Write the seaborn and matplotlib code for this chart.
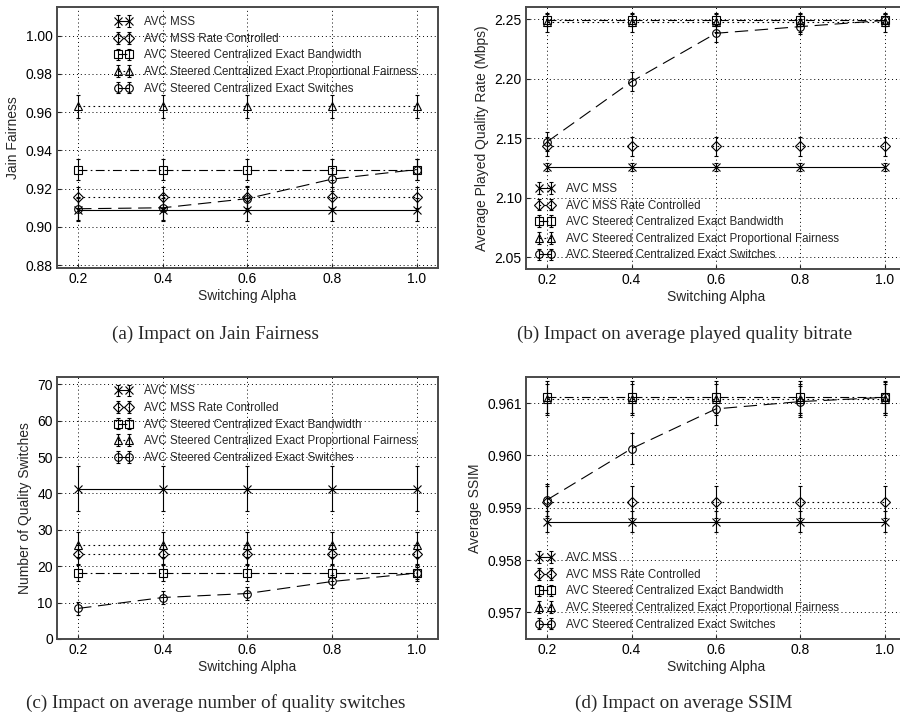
import numpy as np
import pandas as pd
import matplotlib
matplotlib.use("Agg")
import matplotlib.pyplot as plt
import seaborn as sns
from matplotlib.ticker import FormatStrFormatter

# ---------------- data ----------------
alpha = [0.2, 0.4, 0.6, 0.8, 1.0]
series_names = [
    "AVC MSS",
    "AVC MSS Rate Controlled",
    "AVC Steered Centralized Exact Bandwidth",
    "AVC Steered Centralized Exact Proportional Fairness",
    "AVC Steered Centralized Exact Switches",
]

# (a) Jain fairness
jain_mss = [0.909, 0.909, 0.909, 0.909, 0.909]
jain_rate = [0.9155, 0.9155, 0.9155, 0.9155, 0.9155]
jain_bw = [0.930, 0.930, 0.930, 0.930, 0.930]
jain_pf = [0.963, 0.963, 0.963, 0.963, 0.963]
jain_sw = [0.9095, 0.910, 0.9148, 0.925, 0.930]
jain_err_mss = [0.006, 0.006, 0.006, 0.006, 0.006]
jain_err_rate = [0.0056, 0.0056, 0.0056, 0.0056, 0.0056]
jain_err_bw = [0.0055, 0.0055, 0.0055, 0.0055, 0.0055]
jain_err_pf = [0.0058, 0.0058, 0.0058, 0.0058, 0.0058]
jain_err_sw = [0.006, 0.0065, 0.0065, 0.006, 0.0055]

# (b) average played quality rate (Mbps)
rate_mss = [2.126, 2.126, 2.126, 2.126, 2.126]
rate_rate = [2.1435, 2.1435, 2.1435, 2.1435, 2.1435]
rate_bw = [2.2495, 2.2495, 2.2495, 2.2495, 2.2495]
rate_pf = [2.2475, 2.2475, 2.2475, 2.2475, 2.2475]
rate_sw = [2.147, 2.1976, 2.2382, 2.2438, 2.249]
rate_err_mss = [0.0035, 0.0035, 0.0035, 0.0035, 0.0035]
rate_err_rate = [0.008, 0.008, 0.008, 0.008, 0.008]
rate_err_bw = [0.005, 0.005, 0.005, 0.005, 0.005]
rate_err_pf = [0.008, 0.008, 0.008, 0.008, 0.008]
rate_err_sw = [0.008, 0.008, 0.007, 0.006, 0.005]

# (c) number of quality switches
sw_mss = [41.3, 41.3, 41.3, 41.3, 41.3]
sw_rate = [23.3, 23.3, 23.3, 23.3, 23.3]
sw_bw = [18.1, 18.1, 18.1, 18.1, 18.1]
sw_pf = [25.9, 25.9, 25.9, 25.9, 25.9]
sw_sw = [8.4, 11.4, 12.5, 15.8, 18.1]
sw_err_mss = [6.2, 6.2, 6.2, 6.2, 6.2]
sw_err_rate = [2.6, 2.6, 2.6, 2.6, 2.6]
sw_err_bw = [2.2, 2.2, 2.2, 2.2, 2.2]
sw_err_pf = [3.4, 3.4, 3.4, 3.4, 3.4]
sw_err_sw = [1.7, 1.7, 1.7, 1.7, 1.7]

# (d) average SSIM
ssim_mss = [0.95873, 0.95873, 0.95873, 0.95873, 0.95873]
ssim_rate = [0.95911, 0.95911, 0.95911, 0.95911, 0.95911]
ssim_bw = [0.96112, 0.96112, 0.96112, 0.96112, 0.96112]
ssim_pf = [0.96107, 0.96107, 0.96107, 0.96107, 0.96107]
ssim_sw = [0.95915, 0.96013, 0.96089, 0.96103, 0.96111]
ssim_err_mss = [0.0002, 0.0002, 0.0002, 0.0002, 0.0002]
ssim_err_rate = [0.0003, 0.0003, 0.0003, 0.0003, 0.0003]
ssim_err_bw = [0.0003, 0.0003, 0.0003, 0.0003, 0.0003]
ssim_err_pf = [0.0003, 0.0003, 0.0003, 0.0003, 0.0003]
ssim_err_sw = [0.0003, 0.0003, 0.0003, 0.0003, 0.0003]

x_ticks = [0.2, 0.4, 0.6, 0.8, 1.0]
jain_ticks = [0.88, 0.90, 0.92, 0.94, 0.96, 0.98, 1.00]
rate_ticks = [2.05, 2.10, 2.15, 2.20, 2.25]
sw_ticks = [0, 10, 20, 30, 40, 50, 60, 70]
ssim_ticks = [0.957, 0.958, 0.959, 0.960, 0.961]

captions = [
    "(a) Impact on Jain Fairness",
    "(b) Impact on average played quality bitrate",
    "(c) Impact on average number of quality switches",
    "(d) Impact on average SSIM",
]
ylabels = [
    "Jain Fairness",
    "Average Played Quality Rate (Mbps)",
    "Number of Quality Switches",
    "Average SSIM",
]

# ---------------- style ----------------
sns.set_theme(style="ticks")
plt.rcParams["font.family"] = ["Liberation Sans", "DejaVu Sans"]

markers = ["x", "D", "s", "^", "o"]
msizes = [6, 5, 5.5, 5.5, 5.5]
linestyles = ["-", (0, (1.5, 3)), (0, (8, 3, 1.5, 3)), (0, (1.5, 3)), (0, (12, 6))]


def panel(ax, means, errs, yticks, ylim, fmt, ylabel, legend_loc, anchor):
    for name, m, e, mk, ms, ls in zip(series_names, means, errs, markers, msizes, linestyles):
        df = pd.DataFrame({"alpha": alpha, "value": m})
        ax.errorbar(df["alpha"], df["value"], yerr=e, color="black", lw=0.8,
                    linestyle=ls, marker=mk, ms=ms, mfc="none", mec="black",
                    mew=0.8, ecolor="black", elinewidth=0.8, capsize=1.6,
                    capthick=0.8, label=name)
    ax.set_xlim(0.15, 1.05)
    ax.set_ylim(*ylim)
    ax.set_xticks(x_ticks)
    ax.set_yticks(yticks)
    ax.xaxis.set_major_formatter(FormatStrFormatter("%.1f"))
    ax.yaxis.set_major_formatter(FormatStrFormatter(fmt))
    ax.grid(True, color="black", linestyle=(0, (1, 3)), lw=0.7)
    ax.set_xlabel("Switching Alpha", fontsize=10, labelpad=2)
    ax.set_ylabel(ylabel, fontsize=10, labelpad=4)
    ax.tick_params(direction="in", length=3, width=0.8, labelsize=10, pad=3,
                   colors="#222222", labelcolor="black")
    for sp in ax.spines.values():
        sp.set_linewidth(1.4)
        sp.set_color("#4a4a4a")
        sp.set_visible(True)
    ax.legend(loc=legend_loc, bbox_to_anchor=anchor, frameon=False,
              borderpad=0, borderaxespad=0, numpoints=2, handlelength=1.6,
              handletextpad=1.0, labelspacing=0.4, fontsize=8.3)


fig = plt.figure(figsize=(9, 7.17), dpi=100)
fig.patch.set_facecolor("white")

axa = fig.add_axes([0.0633, 0.6262, 0.4233, 0.3640])
axb = fig.add_axes([0.5844, 0.6244, 0.4222, 0.3654])
axc = fig.add_axes([0.0633, 0.1088, 0.4233, 0.3654])
axd = fig.add_axes([0.5844, 0.1088, 0.4222, 0.3654])

panel(axa, [jain_mss, jain_rate, jain_bw, jain_pf, jain_sw],
      [jain_err_mss, jain_err_rate, jain_err_bw, jain_err_pf, jain_err_sw],
      jain_ticks, (0.8785, 1.015), "%.2f", ylabels[0], "upper left", (0.15, 0.965))
panel(axb, [rate_mss, rate_rate, rate_bw, rate_pf, rate_sw],
      [rate_err_mss, rate_err_rate, rate_err_bw, rate_err_pf, rate_err_sw],
      rate_ticks, (2.04, 2.26), "%.2f", ylabels[1], "lower left", (0.026, 0.03))
panel(axc, [sw_mss, sw_rate, sw_bw, sw_pf, sw_sw],
      [sw_err_mss, sw_err_rate, sw_err_bw, sw_err_pf, sw_err_sw],
      sw_ticks, (0, 72), "%d", ylabels[2], "upper left", (0.15, 0.968))
panel(axd, [ssim_mss, ssim_rate, ssim_bw, ssim_pf, ssim_sw],
      [ssim_err_mss, ssim_err_rate, ssim_err_bw, ssim_err_pf, ssim_err_sw],
      ssim_ticks, (0.95649, 0.9615), "%.3f", ylabels[3], "lower left", (0.026, 0.032))

cap_pos = [(216 / 900, 1 - 334 / 717), (685 / 900, 1 - 334 / 717),
           (216 / 900, 1 - 703 / 717), (684 / 900, 1 - 703 / 717)]
for (cx, cy), txt in zip(cap_pos, captions):
    fig.text(cx, cy, txt, ha="center", va="center", fontsize=13.8,
             family=["Liberation Serif", "DejaVu Serif"])

fig.savefig("out.png", dpi=100, facecolor="white")
